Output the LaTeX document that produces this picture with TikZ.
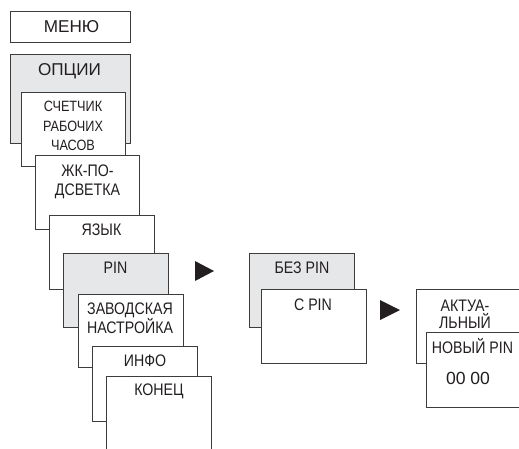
\documentclass[tikz,border=0pt]{standalone}
\usepackage{fontspec}
\setmainfont{Liberation Sans}[FakeStretch=0.85]
\newfontfamily\widefont{Liberation Sans}
\definecolor{framegray}{HTML}{3C3C3C}
\definecolor{panelgray}{HTML}{E6E7E8}
\definecolor{inkgray}{HTML}{231F20}

\begin{document}
\begin{tikzpicture}[
  box/.style={draw=framegray,fill=white,line width=0.9pt},
  greybox/.style={box,fill=panelgray},
  lbl/.style={text=inkgray,font=\fontsize{19}{21.5}\selectfont,align=center,inner sep=0pt},
  biglbl/.style={lbl,font=\widefont\fontsize{19.5}{22}\selectfont},
  smalllbl/.style={lbl,font=\fontsize{17}{22}\selectfont}
]
\useasboundingbox (0.000,0.000) rectangle (20.760,-17.920);
\clip (0.000,0.000) rectangle (20.760,-17.920);

% main menu column
\draw[box] (0.400,-0.440) rectangle (5.200,-1.680);
\node[biglbl] (menu) at (2.860,-1.080) {МЕНЮ};
\draw[greybox] (0.400,-2.160) rectangle (5.200,-5.720);
\node[biglbl] (opt) at (2.780,-2.840) {ОПЦИИ};
\draw[box] (0.840,-3.680) rectangle (5.000,-6.640);
\node[smalllbl] (cnt) at (2.920,-5.040) {СЧЕТЧИК\\РАБОЧИХ\\ЧАСОВ};
\draw[box] (1.400,-6.200) rectangle (5.560,-9.160);
\node[lbl] (lcd) at (3.500,-7.260) {ЖК-ПО-\\ДСВЕТКА};
\draw[box] (1.960,-8.600) rectangle (6.160,-11.560);
\node[lbl] (lang) at (4.060,-9.200) {ЯЗЫК};
\draw[greybox] (2.520,-10.120) rectangle (6.720,-13.080);
\node[lbl] (pin) at (4.620,-10.720) {PIN};
\draw[box] (3.120,-11.760) rectangle (7.320,-14.680);
\node[lbl] (fact) at (5.200,-12.740) {ЗАВОДСКАЯ\\НАСТРОЙКА};
\draw[box] (3.680,-13.840) rectangle (7.880,-16.840);
\node[lbl] (info) at (5.800,-14.440) {ИНФО};
\draw[box] (4.240,-15.040) rectangle (8.440,-18.200);
\node[lbl] (quit) at (6.360,-15.640) {КОНЕЦ};

% pin submenu
\fill[inkgray] (7.800,-10.440) -- (7.800,-11.240) -- (8.560,-10.840) -- cycle;
\draw[greybox] (9.960,-10.120) rectangle (14.160,-13.080);
\node[lbl] (nopin) at (12.080,-10.720) {БЕЗ PIN};
\draw[box] (10.440,-11.560) rectangle (14.640,-14.520);
\node[lbl] (withpin) at (12.520,-12.200) {С PIN};

% pin entry
\fill[inkgray] (15.200,-12.000) -- (15.200,-12.800) -- (16.000,-12.400) -- cycle;
\draw[box] (16.640,-11.560) rectangle (20.840,-14.520);
\node[lbl,font=\fontsize{19}{19.5}\selectfont] (cur) at (18.600,-12.580) {АКТУА-\\ЛЬНЫЙ};
\draw[box] (17.040,-13.280) rectangle (21.240,-16.280);
\node[lbl] (newpin) at (18.900,-13.840) {НОВЫЙ PIN};
\node[lbl,font=\widefont\fontsize{20}{22}\selectfont] (code) at (18.720,-15.120) {00 00};
\end{tikzpicture}
\end{document}
